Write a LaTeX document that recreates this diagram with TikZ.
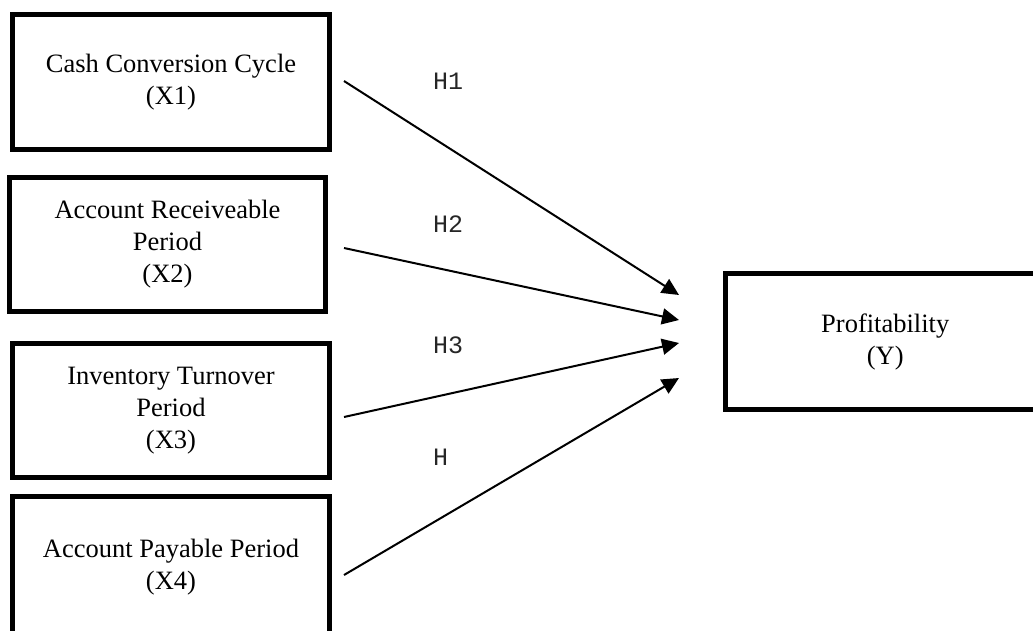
\documentclass[tikz,border=0pt]{standalone}
\usepackage{fontspec}
\setmainfont{Liberation Serif}
\newfontfamily\labelfont{Liberation Mono}
\usetikzlibrary{arrows.meta}
\begin{document}
\begin{tikzpicture}[x=1pt,y=-1pt,
  varbox/.style={draw=black,line width=5pt,inner sep=0pt,outer sep=0pt,align=center,
    font=\fontsize{26.5}{32}\selectfont},
  hyparrow/.style={line width=2pt,-{Triangle[length=17pt,width=16pt]}},
  hyplabel/.style={anchor=west,inner sep=0pt,font=\labelfont\fontsize{25}{28}\selectfont,text=black!85}]
\useasboundingbox (0,0) rectangle (1033,630);
\clip (0,0) rectangle (1033,630);
\node[varbox,minimum width=317pt,minimum height=135pt] (x1) at (171,82) {Cash Conversion Cycle\\(X1)};
\node[varbox,minimum width=316pt,minimum height=134pt] (x2) at (167.5,244.5) {Account Receiveable\\Period\\(X2)};
\node[varbox,minimum width=317pt,minimum height=134pt] (x3) at (171,410.5) {Inventory Turnover\\Period\\(X3)};
\node[varbox,minimum width=317pt,minimum height=141pt] (x4) at (171,567) {Account Payable Period\\(X4)};
\node[varbox,minimum width=319.5pt,minimum height=136pt] (y) at (885.25,341.5) {Profitability\\(Y)};
\coordinate (s1) at (344,81);
\coordinate (s2) at (344,248);
\coordinate (s3) at (344,417);
\coordinate (s4) at (344,575);
\coordinate (t1) at (679,295);
\coordinate (t2) at (679,320);
\coordinate (t3) at (679,343);
\coordinate (t4) at (679,378);
\draw[hyparrow] (s1) -- (t1);
\draw[hyparrow] (s2) -- (t2);
\draw[hyparrow] (s3) -- (t3);
\draw[hyparrow] (s4) -- (t4);
\node[hyplabel] (h1) at (433,81) {H1};
\node[hyplabel] (h2) at (433,224) {H2};
\node[hyplabel] (h3) at (433,345) {H3};
\node[hyplabel] (h4) at (433,457) {H};
\end{tikzpicture}
\end{document}
